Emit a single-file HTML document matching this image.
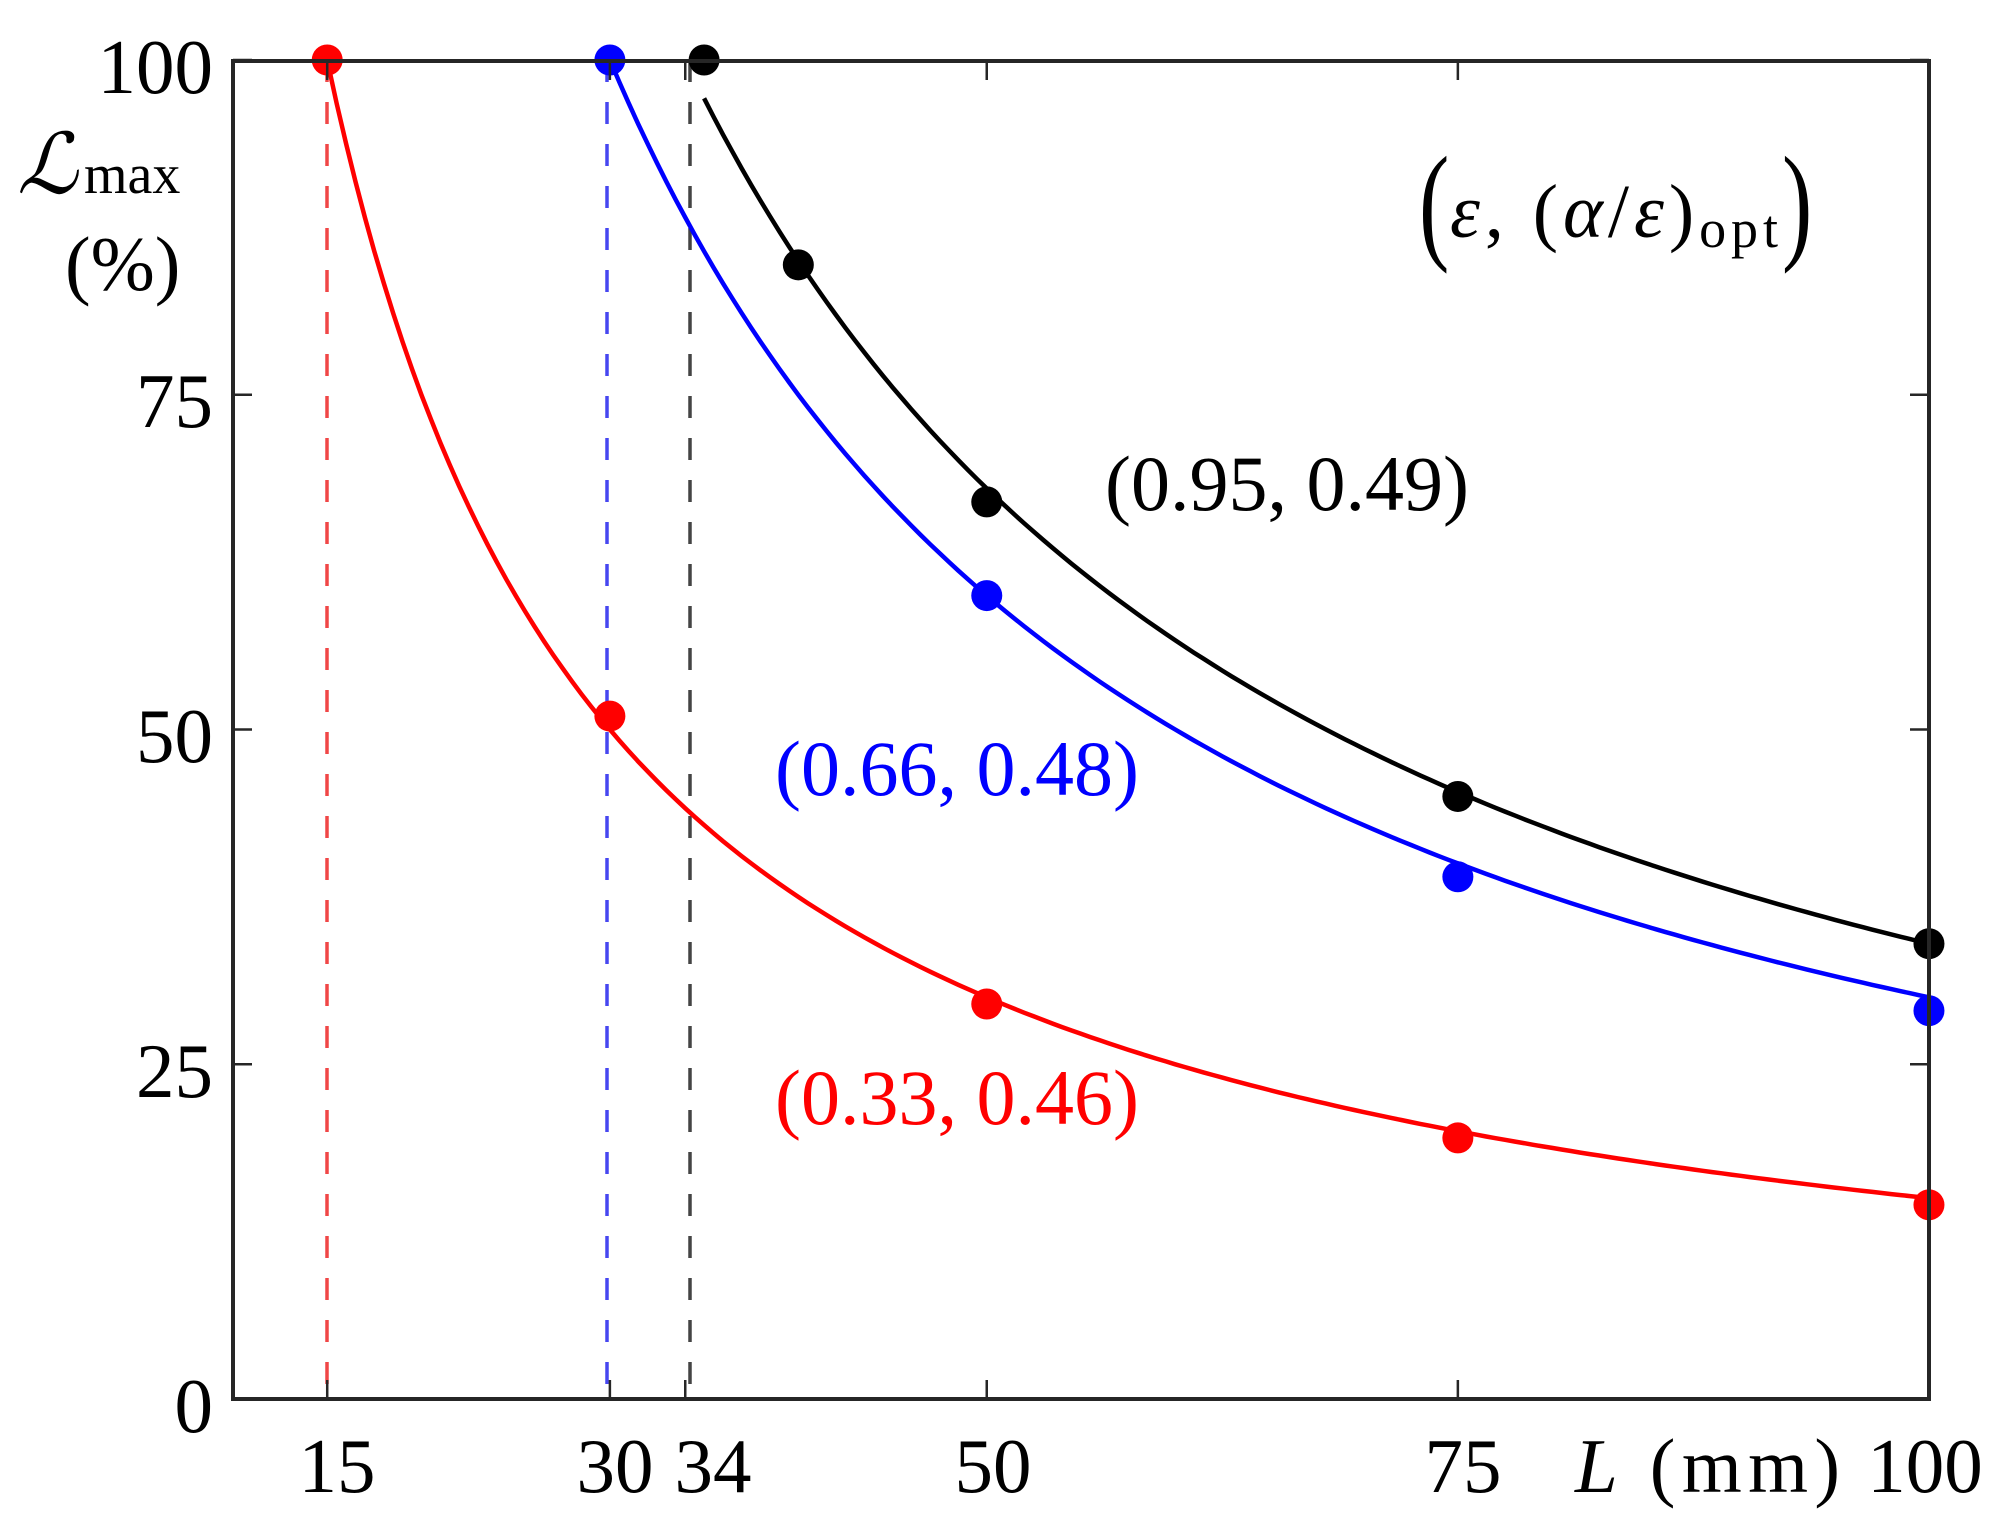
<!DOCTYPE html>
<html><head><meta charset="utf-8"><style>
html,body{margin:0;padding:0;background:#fff}
svg{display:block}
text{font-family:"Liberation Serif","DejaVu Serif",serif}
</style></head><body>
<svg id="s" width="2008" height="1539" viewBox="0 0 2008 1539" xmlns="http://www.w3.org/2000/svg">
<rect width="2008" height="1539" fill="#fff"/>
<g id="dash" stroke-width="3.5" stroke-dasharray="22 20" fill="none">
<line x1="327" y1="60" x2="327" y2="1399" stroke="#f04646"/>
<line x1="607" y1="60" x2="607" y2="1399" stroke="#4646f0"/>
<line x1="690" y1="60" x2="690" y2="1399" stroke="#444"/>
</g>
<g id="curves" fill="none" stroke-width="4.5"></g>
<g id="dots"></g>
<g stroke="#262626" stroke-width="4" fill="none">
<rect x="233" y="61" width="1696" height="1338"/>
</g>
<g id="ticks" stroke="#262626" stroke-width="2.5"></g>
<g font-size="77" fill="#000" text-anchor="end">
<text x="213" y="93">100</text>
<text x="213" y="427">75</text>
<text x="213" y="762">50</text>
<text x="213" y="1097">25</text>
<text x="213" y="1432">0</text>
</g>
<g font-size="77" fill="#000" text-anchor="middle">
<text x="337" y="1492">15</text>
<text x="615" y="1492">30</text>
<text x="713" y="1492">34</text>
<text x="993" y="1492">50</text>
<text x="1463" y="1492">75</text>
<text x="1925" y="1492">100</text>
<text x="1575" y="1492" text-anchor="start" textLength="265"><tspan font-style="italic">L</tspan> (mm)</text>
</g>
<text x="17" y="193" font-size="84" font-style="italic" fill="#000">ℒ</text>
<text x="84" y="193" font-size="56" fill="#000">max</text>
<text x="65" y="290" font-size="77" fill="#000">(%)</text>
<text x="1105" y="510" font-size="78" fill="#000">(0.95, 0.49)</text>
<text x="775" y="795" font-size="78" fill="#0000ff">(0.66, 0.48)</text>
<text x="775" y="1124" font-size="78" fill="#ff0000">(0.33, 0.46)</text>
<text x="1419" y="246" font-size="130" fill="#000" transform="translate(1419 246) scale(0.7 1) translate(-1419 -246)">(</text>
<text x="1450" y="237" font-size="76" fill="#000" textLength="328"><tspan font-style="italic">ε</tspan>,  (<tspan font-style="italic">α</tspan>/<tspan font-style="italic">ε</tspan>)<tspan font-size="54" dy="10">opt</tspan></text>
<text x="1782" y="246" font-size="130" fill="#000" transform="translate(1782 246) scale(0.7 1) translate(-1782 -246)">)</text>
</svg>
<script>
var X=function(v){return 233+18.844*(v-10)},Y=function(v){return 1399-13.39*v};
var NS="http://www.w3.org/2000/svg";
function path(a,from,col){var d="";for(var L=from;L<=100.001;L+=0.5){var v=a/L;d+=(d?"L":"M")+X(L).toFixed(1)+" "+Y(v).toFixed(1);}
var p=document.createElementNS(NS,"path");p.setAttribute("d",d);p.setAttribute("stroke",col);document.getElementById("curves").appendChild(p);}
path(1500,15,"#ff0000");path(3000,30,"#0000ff");path(3400,35,"#000000");
function dots(pts,col){pts.forEach(function(p){var c=document.createElementNS(NS,"circle");c.setAttribute("cx",X(p[0]));c.setAttribute("cy",Y(p[1]));c.setAttribute("r",15.5);c.setAttribute("fill",col);document.getElementById("dots").appendChild(c);});}
dots([[15,100],[30,51],[50,29.5],[75,19.5],[100,14.5]],"#ff0000");
dots([[30,100],[50,60],[75,39],[100,29]],"#0000ff");
dots([[35,100],[40,84.7],[50,67],[75,45],[100,34]],"#000000");
var t=document.getElementById("ticks");
function ln(a,b,c,d){var l=document.createElementNS(NS,"line");l.setAttribute("x1",a);l.setAttribute("y1",b);l.setAttribute("x2",c);l.setAttribute("y2",d);t.appendChild(l);}
[0,25,50,75,100].forEach(function(v){ln(233,Y(v),252,Y(v));ln(1929,Y(v),1910,Y(v));});
[15,30,34,50,75,100].forEach(function(v){ln(X(v),1399,X(v),1380);ln(X(v),61,X(v),80);});
</script>
</body></html>
